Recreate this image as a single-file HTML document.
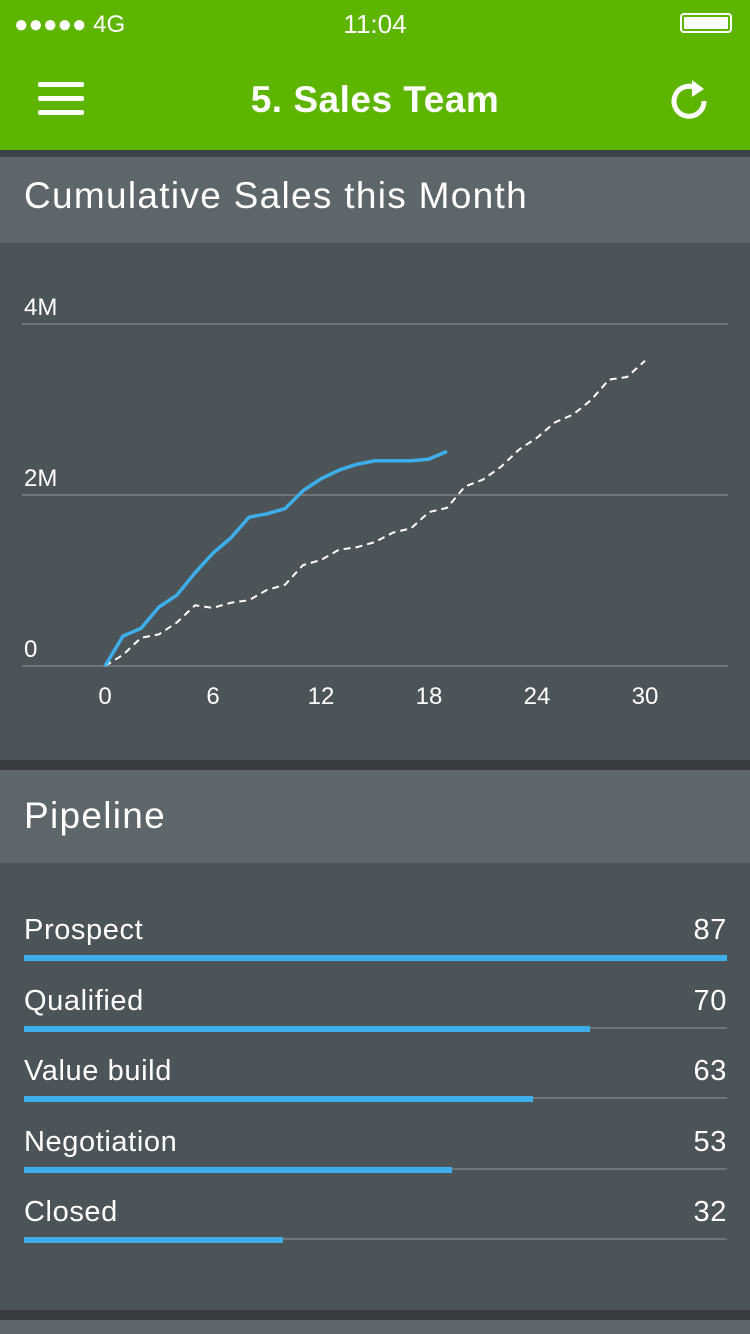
<!DOCTYPE html>
<html><head><meta charset="utf-8">
<style>
body{margin:0;width:750px;height:1334px;overflow:hidden;background:#4c5458;font-family:"Liberation Sans",sans-serif;position:relative}
.abs{position:absolute}
</style></head><body>
<div class="abs" style="left:0;top:0;width:750px;height:150px;background:#5db500"></div>
<div class="abs" style="left:14px;top:11px;color:#fff;font-size:24px">●●●●● 4G</div>
<div class="abs" style="left:0;width:750px;top:9px;text-align:center;color:#fff;font-size:26px">11:04</div>
<div class="abs" style="left:680px;top:13px;width:52px;height:20px;border:2px solid #fff;border-radius:4px;box-sizing:border-box;padding:2px"><div style="background:#fff;width:100%;height:100%;border-radius:1px"></div></div>
<div class="abs" style="left:38px;top:82px;width:46px;height:34px">
<div style="height:5px;background:#fff;margin-bottom:9px;border-radius:2px"></div><div style="height:5px;background:#fff;margin-bottom:9px;border-radius:2px"></div><div style="height:5px;background:#fff;border-radius:2px"></div></div>
<div class="abs" style="left:0;width:750px;top:79px;text-align:center;color:#fff;font-size:37px;font-weight:bold;letter-spacing:0.5px">5. Sales Team</div>
<svg class="abs" style="left:666px;top:77px" width="48" height="48" viewBox="0 0 48 48"><path d="M38 24A15 15 0 1 1 30 11" fill="none" stroke="#fff" stroke-width="5"/><path d="M26 3 L38 12 L26 20Z" fill="#fff"/></svg>
<div class="abs" style="left:0;top:150px;width:750px;height:7px;background:#3d4346"></div>
<div class="abs" style="left:0;top:157px;width:750px;height:86px;background:#5e666a;color:#fff;font-size:37px;line-height:78px;padding-left:24px;box-sizing:border-box;letter-spacing:1.3px">Cumulative Sales this Month</div>
<svg class="abs" id="chart" style="left:0;top:243px" width="750" height="517"></svg>
<div class="abs" style="left:0;top:760px;width:750px;height:10px;background:#383c3e"></div>
<div class="abs" style="left:0;top:770px;width:750px;height:93px;background:#5e666a;color:#fff;font-size:37px;line-height:92px;padding-left:24px;box-sizing:border-box;letter-spacing:1.3px">Pipeline</div>
<div class="abs" id="pipe" style="left:0;top:863px;width:750px;height:447px"></div>
<div class="abs" style="left:0;top:1310px;width:750px;height:10px;background:#383c3e"></div>
<div class="abs" style="left:0;top:1320px;width:750px;height:14px;background:#5e666a"></div>
<script>
const days=[0,1,2,3,4,5,6,7,8,9,10,11,12,13,14,15,16,17,18,19,20,21,22,23,24,25,26,27,28,29,30];
const actual=[0,0.35,0.44,0.69,0.83,1.09,1.32,1.5,1.74,1.78,1.84,2.05,2.19,2.29,2.36,2.4,2.4,2.4,2.42,2.51];
const target=[0,0.13,0.33,0.37,0.51,0.71,0.68,0.74,0.77,0.89,0.95,1.18,1.24,1.36,1.39,1.45,1.56,1.61,1.8,1.85,2.1,2.18,2.33,2.53,2.67,2.85,2.94,3.11,3.35,3.38,3.57];
const yTicks=[0,2,4];const yLabels=["0","2M","4M"];
const xTicks=[0,6,12,18,24,30];
const stages=["Prospect","Qualified","Value build","Negotiation","Closed"];
const counts=[87,70,63,53,32];
const NS="http://www.w3.org/2000/svg";const svg=document.getElementById('chart');
const X=d=>105+d*18, Y=v=>423-v*85.5;
function mk(t,a){const e=document.createElementNS(NS,t);for(const k in a)e.setAttribute(k,a[k]);svg.appendChild(e);return e;}
yTicks.forEach((v,i)=>{const l=mk('line',{x1:22,x2:728,y1:Y(v),y2:Y(v),stroke:'#6e7679','stroke-width':2});


const t=mk('text',{x:24,y:Y(v)-9,fill:'#fff','font-size':24,'font-family':'Liberation Sans'});t.textContent=yLabels[i];

});
xTicks.forEach(d=>{const t=mk('text',{x:X(d),y:461,fill:'#fff','font-size':24,'text-anchor':'middle','font-family':'Liberation Sans'});t.textContent=d;

});
const p2=mk('polyline',{points:target.map((v,i)=>X(days[i])+','+Y(v)).join(' '),fill:'none',stroke:'#fff','stroke-width':2,'stroke-dasharray':'7,5'});


const p1=mk('polyline',{points:actual.map((v,i)=>X(days[i])+','+Y(v)).join(' '),fill:'none',stroke:'#3daee9','stroke-width':3.5,'stroke-linejoin':'round'});


const pipe=document.getElementById('pipe');const mx=Math.max(...counts);
stages.forEach((s,i)=>{const r=document.createElement('div');


const top=46+i*70.5;
r.style.cssText=`position:absolute;left:24px;top:${top}px;width:703px;height:60px;color:#fff;font-size:29px;letter-spacing:0.6px`;
r.innerHTML=`<span style="position:absolute;left:0;top:5px">${s}</span><span style="position:absolute;right:0;top:5px">${counts[i]}</span><div style="position:absolute;left:0;top:47px;width:703px;height:2px;background:#6e7679"></div><div style="position:absolute;left:0;top:46px;width:${703*counts[i]/mx}px;height:6px;background:#3daee9"></div>`;
pipe.appendChild(r);});
</script>
</body></html>
